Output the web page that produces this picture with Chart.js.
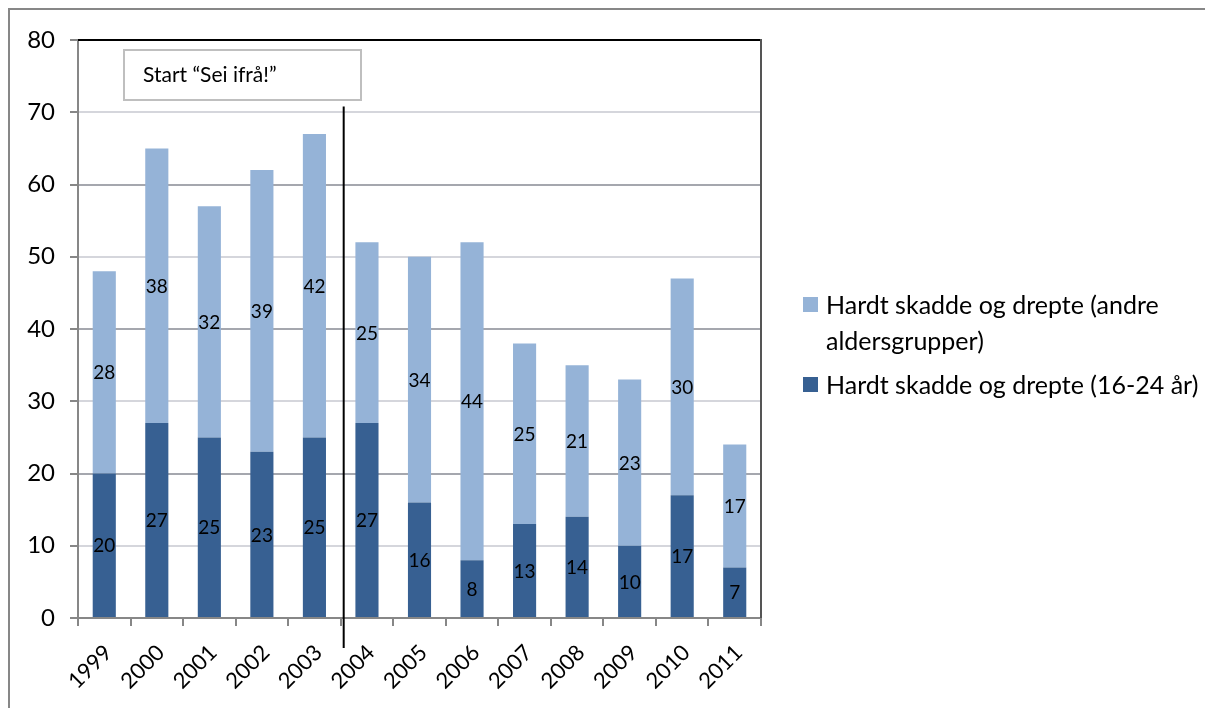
<!DOCTYPE html>
<html lang="no">
<head>
<meta charset="utf-8">
<title>Hardt skadde og drepte 1999–2011</title>
<script src="https://cdn.jsdelivr.net/npm/chart.js@4.4.1/dist/chart.umd.min.js"></script>
<style>
  html, body { margin: 0; padding: 0; background: #fff; }
  #wrap { position: relative; width: 1205px; height: 708px; font-family: Lato, "Open Sans", sans-serif; }
  #legend { position: absolute; left: 803px; top: 286px; color: #000; font-size: 25px; line-height: 36px; }
  .item { position: relative; padding-left: 23px; margin-bottom: 8px; white-space: nowrap; }
  .item .sw { position: absolute; left: 0; top: 11px; width: 15px; height: 15px; }
</style>
</head>
<body>
<div id="wrap">
  <canvas id="chart" width="1205" height="708"></canvas>
  <div id="legend"></div>
</div>
<script>
// === Data ===
const years = ["1999", "2000", "2001", "2002", "2003", "2004", "2005", "2006", "2007", "2008", "2009", "2010", "2011"];
const young = [20, 27, 25, 23, 25, 27, 16, 8, 13, 14, 10, 17, 7];        // 16-24 år
const others = [28, 38, 32, 39, 42, 25, 34, 44, 25, 21, 23, 30, 17];     // andre aldersgrupper
const yTicks = [0, 10, 20, 30, 40, 50, 60, 70, 80];

const seriesNames = ["Hardt skadde og drepte (16-24 år)", "Hardt skadde og drepte (andre aldersgrupper)"];
const darkBlue = "#376092";
const lightBlue = "#95B3D7";

// campaign start marker: drawn between 2003 and 2004
const campaignLabel = "Start \u201cSei ifrå!\u201d";
const campaignAfter = "2003";
const campaignTop = 70.8;

const FONT = "Lato, 'Open Sans', sans-serif";

// === Outer frame + plot box ===
const framePlugin = {
  id: "frame",
  beforeDraw(chart) {
    const c = chart.ctx;
    c.save();
    c.strokeStyle = "#878787";
    c.lineWidth = 2;
    c.beginPath();
    c.moveTo(9, 708);
    c.lineTo(9, 9);
    c.lineTo(1205, 9);
    c.stroke();
    c.restore();
  },
  afterDraw(chart) {
    const a = chart.chartArea;
    const c = chart.ctx;
    c.save();
    c.lineWidth = 2;
    c.strokeStyle = "#000";
    c.beginPath();
    c.moveTo(a.left, a.top);
    c.lineTo(a.right, a.top);
    c.stroke();
    c.strokeStyle = "#555";
    c.beginPath();
    c.moveTo(a.right, a.top - 1);
    c.lineTo(a.right, a.bottom);
    c.stroke();
    c.restore();
  },
};

// === Year labels, slanted 45° under each category ===
const yearLabels = {
  id: "yearLabels",
  afterDraw(chart) {
    const x = chart.scales.x;
    const c = chart.ctx;
    c.save();
    c.font = "22px " + FONT;
    c.fillStyle = "#000";
    c.textAlign = "right";
    c.textBaseline = "middle";
    years.forEach((yr, i) => {
      c.save();
      c.translate(x.getPixelForValue(i) + 4, x.top + 31);
      c.rotate(-Math.PI / 4);
      c.fillText(yr, 0, 0);
      c.restore();
    });
    c.restore();
  },
};

// === Value labels centred in each segment ===
const valueLabels = {
  id: "valueLabels",
  afterDatasetsDraw(chart) {
    const c = chart.ctx;
    c.save();
    c.font = "19px " + FONT;
    c.fillStyle = "#000";
    c.textAlign = "center";
    c.textBaseline = "middle";
    chart.data.datasets.forEach((ds, i) => {
      chart.getDatasetMeta(i).data.forEach((bar, j) => {
        c.fillText(String(ds.data[j]), bar.x, (bar.y + bar.base) / 2 + 1);
      });
    });
    c.restore();
  },
};

// === "Sei ifrå!" marker line and text box ===
const campaignMarker = {
  id: "campaign",
  afterDraw(chart) {
    const x = chart.scales.x;
    const y = chart.scales.y;
    const a = chart.chartArea;
    const i = years.indexOf(campaignAfter);
    const lx = (x.getPixelForValue(i) + x.getPixelForValue(i + 1)) / 2 + 3;
    const c = chart.ctx;
    c.save();
    c.strokeStyle = "#000";
    c.lineWidth = 2;
    c.beginPath();
    c.moveTo(lx, y.getPixelForValue(campaignTop));
    c.lineTo(lx, a.bottom + 30);
    c.stroke();

    // text box
    const bx = a.left + 46, by = a.top + 10, bw = 237, bh = 50;
    c.fillStyle = "#fff";
    c.fillRect(bx, by, bw, bh);
    c.strokeStyle = "#bfbfbf";
    c.lineWidth = 2;
    c.strokeRect(bx, by, bw, bh);
    c.fillStyle = "#000";
    c.font = "21px " + FONT;
    c.textAlign = "left";
    c.textBaseline = "middle";
    c.fillText(campaignLabel, bx + 19, by + bh / 2);
    c.restore();
  },
};

// === Chart ===
const ctx = document.getElementById("chart");
new Chart(ctx, {
  type: "bar",
  data: {
    labels: years,
    datasets: [
      { label: seriesNames[0], data: young, backgroundColor: darkBlue },
      { label: seriesNames[1], data: others, backgroundColor: lightBlue },
    ],
  },
  options: {
    responsive: false,
    animation: false,
    devicePixelRatio: 1,
    layout: { padding: { left: 0, top: 40, right: 444, bottom: 0 } },
    datasets: { bar: { categoryPercentage: 1, barPercentage: 0.44 } },
    plugins: { legend: { display: false }, tooltip: { enabled: false } },
    scales: {
      x: {
        stacked: true,
        grid: { drawOnChartArea: false, offset: true, tickColor: "#878787", tickLength: 8, lineWidth: 2 },
        border: { color: "#878787", width: 2 },
        ticks: { display: false },
        afterFit(s) { s.height = 90; s.paddingLeft = 0; s.paddingRight = 0; },
      },
      y: {
        stacked: true,
        min: 0,
        max: 80,
        afterBuildTicks(s) { s.ticks = yTicks.map((v) => ({ value: v })); },
        grid: {
          color: (g) => (g.tick && g.tick.value % 20 === 0 ? "#a5a7ae" : "#d5d6dc"),
          tickColor: "#878787",
          tickLength: 8,
          lineWidth: 2,
        },
        border: { color: "#878787", width: 2 },
        ticks: { color: "#000", font: { family: FONT, size: 24 }, padding: 15 },
        afterFit(s) { s.width = 78; },
      },
    },
  },
  plugins: [framePlugin, yearLabels, valueLabels, campaignMarker],
});

// === Legend (top series listed first) ===
const legend = document.getElementById("legend");
[
  { name: "Hardt skadde og drepte (andre<br>aldersgrupper)", color: lightBlue },
  { name: "Hardt skadde og drepte (16-24 år)", color: darkBlue },
].forEach((it) => {
  const d = document.createElement("div");
  d.className = "item";
  d.innerHTML = `<span class="sw" style="background:${it.color}"></span>${it.name}`;
  legend.appendChild(d);
});
</script>
</body>
</html>
